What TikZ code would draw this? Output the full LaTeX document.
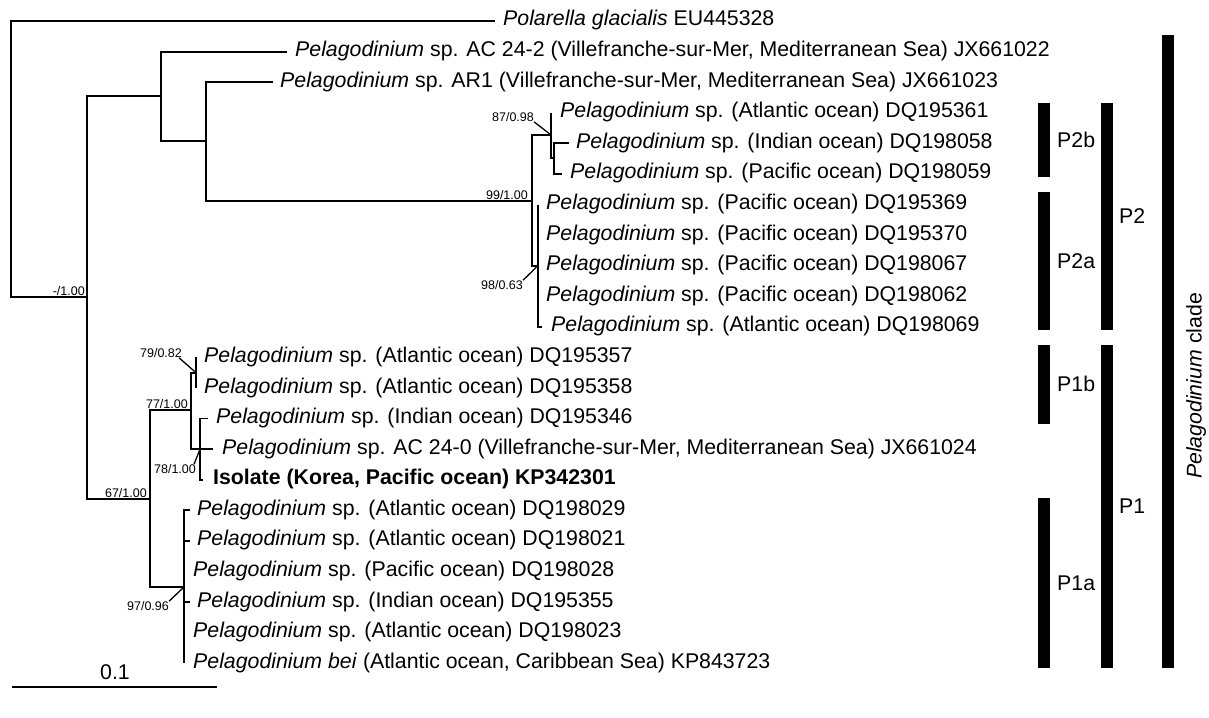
\documentclass[tikz,border=0pt]{standalone}
\usepackage{fontspec}
\setmainfont{Liberation Sans}
\begin{document}
\begin{tikzpicture}[x=1pt,y=-1pt,
  br/.style={line width=1.9pt, line join=miter},
  lead/.style={line width=1.3pt},
  leaf/.style={anchor=base west, inner sep=0pt, font=\fontsize{21.3}{24}\selectfont},
  bs/.style={inner sep=0pt, font=\fontsize{12.5}{14}\selectfont},
  barlab/.style={anchor=west, inner sep=0pt, font=\fontsize{21.3}{24}\selectfont},
]
\fill[white] (0,0) rectangle (1209,717);
\useasboundingbox (0,0) rectangle (1209,717);
% leaf tips
\coordinate (t1) at (495,21);
\coordinate (t2) at (287,51.6);
\coordinate (t3) at (273,82.2);
\coordinate (t4) at (551,112.7);
\coordinate (t5) at (569,143.3);
\coordinate (t6) at (562,173.9);
\coordinate (t7) at (538,204.5);
\coordinate (t8) at (538,235.1);
\coordinate (t9) at (538,265.6);
\coordinate (t10) at (538,296.2);
\coordinate (t11) at (542,326.8);
\coordinate (t12) at (196,357.4);
\coordinate (t13) at (196,388.0);
\coordinate (t14) at (208,418.5);
\coordinate (t15) at (213,449.1);
\coordinate (t16) at (203,479.7);
\coordinate (t17) at (190,510.3);
\coordinate (t18) at (190,540.9);
\coordinate (t19) at (184,571.4);
\coordinate (t20) at (190,602.0);
\coordinate (t21) at (184,632.6);
\coordinate (t22) at (184,663.2);
% internal nodes
\coordinate (R) at (11,297);
\coordinate (A) at (87,297);
\coordinate (B) at (161,96);
\coordinate (C) at (206,141);
\coordinate (D) at (532,201);
\coordinate (E) at (551,135);
\coordinate (F) at (554,158);
\coordinate (G) at (538,265.6);
\coordinate (H) at (196,372.7);
\coordinate (I) at (191,410);
\coordinate (J) at (150,499);
\coordinate (K) at (200,449.1);
\coordinate (L) at (184,587);
% branches
\draw[br] (t1) -| (R) |- (A);
\draw[br] (B) -| (A) |- (J);
\draw[br] (t2) -| (B) |- (C);
\draw[br] (t3) -| (C) |- (D);
\draw[br] (E) -| (D) |- (G);
\draw[br] (t4) -| (E) |- (F);
\draw[br] (t5) -| (F) |- (t6);
\draw[br] (t7) -| (G) |- (t11);
\draw[br] (I) -| (J) |- (L);
\draw[br] (H) -| (I) |- (K);
\draw[br] (t12) -- (t13);
\draw[br] (t14) -| (K) |- (t16);
\draw[br] (K) -- (t15);
\draw[br] (t17) -| (L) |- (t22);
\draw[br] (t18 -| L) -- (t18);
\draw[br] (t20 -| L) -- (t20);
% leaf labels
\node[leaf] (n1) at (503,26) {\textit{Polarella glacialis} EU445328};
\node[leaf] (n2) at (295,56.6) {\textit{Pelagodinium} sp. AC 24-2 (Villefranche-sur-Mer, Mediterranean Sea) JX661022};
\node[leaf] (n3) at (280,87.2) {\textit{Pelagodinium} sp. AR1 (Villefranche-sur-Mer, Mediterranean Sea) JX661023};
\node[leaf] (n4) at (560,117.7) {\textit{Pelagodinium} sp. (Atlantic ocean) DQ195361};
\node[leaf] (n5) at (576,148.3) {\textit{Pelagodinium} sp. (Indian ocean) DQ198058};
\node[leaf] (n6) at (570,178.9) {\textit{Pelagodinium} sp. (Pacific ocean) DQ198059};
\node[leaf] (n7) at (546,209.5) {\textit{Pelagodinium} sp. (Pacific ocean) DQ195369};
\node[leaf] (n8) at (546,240.1) {\textit{Pelagodinium} sp. (Pacific ocean) DQ195370};
\node[leaf] (n9) at (546,270.6) {\textit{Pelagodinium} sp. (Pacific ocean) DQ198067};
\node[leaf] (n10) at (546,301.2) {\textit{Pelagodinium} sp. (Pacific ocean) DQ198062};
\node[leaf] (n11) at (551,331.8) {\textit{Pelagodinium} sp. (Atlantic ocean) DQ198069};
\node[leaf] (n12) at (204,362.4) {\textit{Pelagodinium} sp. (Atlantic ocean) DQ195357};
\node[leaf] (n13) at (204,393.0) {\textit{Pelagodinium} sp. (Atlantic ocean) DQ195358};
\node[leaf] (n14) at (216,423.5) {\textit{Pelagodinium} sp. (Indian ocean) DQ195346};
\node[leaf] (n15) at (222,454.1) {\textit{Pelagodinium} sp. AC 24-0 (Villefranche-sur-Mer, Mediterranean Sea) JX661024};
\node[leaf] (n16) at (213,484.7) {\textbf{Isolate (Korea, Pacific ocean) KP342301}};
\node[leaf] (n17) at (197,515.3) {\textit{Pelagodinium} sp. (Atlantic ocean) DQ198029};
\node[leaf] (n18) at (197,545.9) {\textit{Pelagodinium} sp. (Atlantic ocean) DQ198021};
\node[leaf] (n19) at (193,576.4) {\textit{Pelagodinium} sp. (Pacific ocean) DQ198028};
\node[leaf] (n20) at (197,607.0) {\textit{Pelagodinium} sp. (Indian ocean) DQ195355};
\node[leaf] (n21) at (193,637.6) {\textit{Pelagodinium} sp. (Atlantic ocean) DQ198023};
\node[leaf] (n22) at (193,668.2) {\textit{Pelagodinium bei} (Atlantic ocean, Caribbean Sea) KP843723};
% support values
\node[bs, anchor=base east] (s1) at (85,295) {-/1.00};
\node[bs, anchor=base east] (s99) at (528,199) {99/1.00};
\node[bs, anchor=base east] (s77) at (188,408) {77/1.00};
\node[bs, anchor=base east] (s67) at (147,497) {67/1.00};
\node[bs] (s87) at (513,117) {87/0.98};
\node[bs] (s98) at (502,285) {98/0.63};
\node[bs] (s79) at (161,353) {79/0.82};
\node[bs] (s78) at (175,469) {78/1.00};
\node[bs] (s97) at (148,606) {97/0.96};
\draw[lead] (s87.south east) -- (E);
\draw[lead] (s98.north east) -- (G);
\draw[lead] ([xshift=-3pt]s79.south east) -- (H);
\draw[lead] ([xshift=-2pt]s78.north east) -- (K);
\draw[lead] (s97.north east) -- (L);
% clade bars
\fill (1038,103) rectangle (1050,177);
\fill (1038,192) rectangle (1050,330);
\fill (1038,345) rectangle (1050,424);
\fill (1038,498) rectangle (1050,668);
\fill (1101,103) rectangle (1113,330);
\fill (1101,345) rectangle (1113,668);
\fill (1162,35) rectangle (1174,668);
\node[barlab] (p2b) at (1057,140) {P2b};
\node[barlab] (p2a) at (1057,261) {P2a};
\node[barlab] (p1b) at (1057,384) {P1b};
\node[barlab] (p1a) at (1057,583) {P1a};
\node[barlab] (p2) at (1119,216) {P2};
\node[barlab] (p1) at (1119,506) {P1};
\node[rotate=90, inner sep=0pt, font=\fontsize{21.3}{24}\selectfont] (clade) at (1196,386) {\textit{Pelagodinium} clade};
% scale bar
\coordinate (sb1) at (12,687);
\coordinate (sb2) at (217,687);
\draw[lead] (sb1) -- (sb2);
\node[inner sep=0pt, font=\fontsize{21.3}{24}\selectfont] (sbl) at (115,672) {0.1};
\end{tikzpicture}
\end{document}
